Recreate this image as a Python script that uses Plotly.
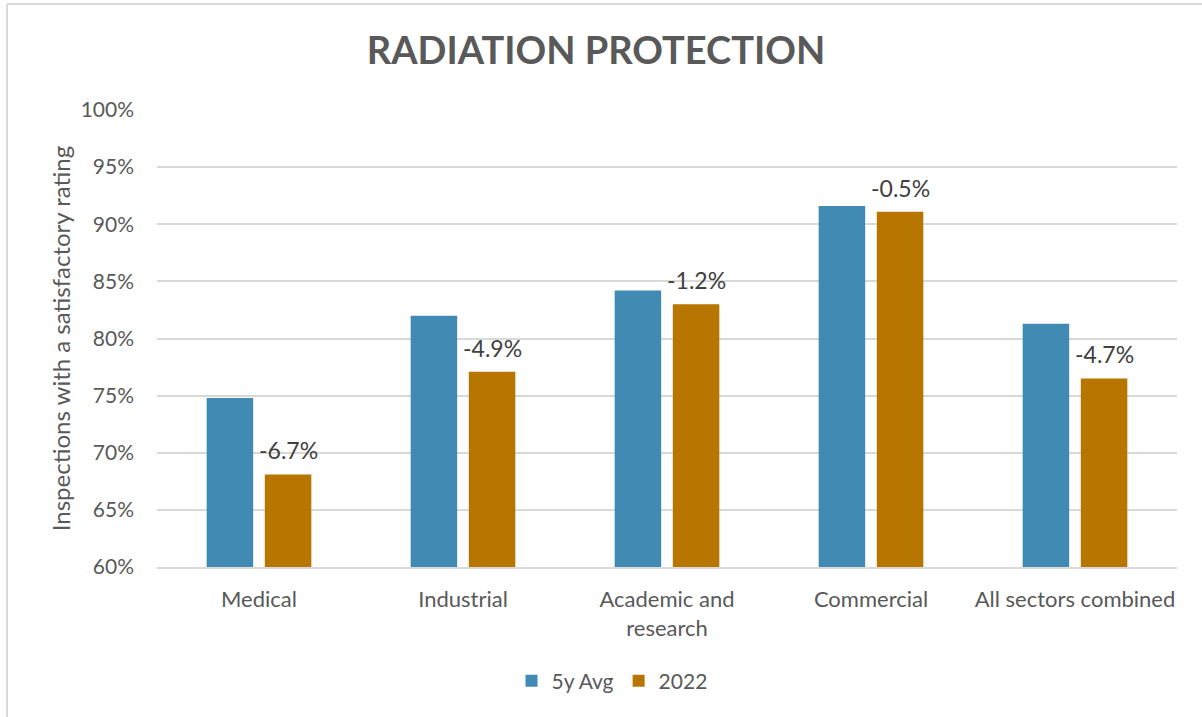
import plotly.graph_objects as go

categories = ["Medical", "Industrial", "Academic and<br>research", "Commercial", "All sectors combined"]
avg5y = [74.8, 82.0, 84.2, 91.6, 81.3]
y2022 = [68.1, 77.1, 83.0, 91.1, 76.5]
changes = ["-6.7%", "-4.9%", "-1.2%", "-0.5%", "-4.7%"]
tick_vals = [60, 65, 70, 75, 80, 85, 90, 95, 100]
tick_text = ["60%", "65%", "70%", "75%", "80%", "85%", "90%", "95%", "100%"]

FONT = "Lato, Open Sans, sans-serif"
GREY = "#595959"

fig = go.Figure()
fig.add_trace(go.Bar(name="5y Avg", x=categories, y=avg5y, marker_color="#418AB3",
                     marker_line_width=0))
fig.add_trace(go.Bar(name="2022", x=categories, y=y2022, marker_color="#B77600",
                     marker_line_width=0))

for c, v, t in zip(categories, y2022, changes):
    fig.add_annotation(x=c, y=v, text=t, showarrow=False, xshift=29, yshift=8,
                       yanchor="bottom", xanchor="center",
                       font=dict(size=23, color="#404040", family=FONT))

W, H = 1202, 717
L, R, T, B = 157, 25, 110, 150
pw, ph = W - L - R, H - T - B

def px_x(p):
    return (p - L) / pw

def px_y(p):
    return (H - B - p) / ph

fig.update_layout(
    width=W, height=H,
    margin=dict(l=L, r=R, t=T, b=B),
    paper_bgcolor="white", plot_bgcolor="white",
    barmode="group", bargap=0.43, bargroupgap=0.2,
    title=dict(text="<b>RADIATION PROTECTION</b>", x=596 / W, xanchor="center",
               y=1 - 51 / H, yanchor="middle",
               font=dict(size=38, color=GREY, family=FONT)),
    font=dict(family=FONT, color=GREY, size=22),
    legend=dict(orientation="h", x=px_x(612), xanchor="center", y=px_y(681), yanchor="middle",
                font=dict(size=21, color=GREY), traceorder="normal"),
    yaxis=dict(range=[60, 100], tickvals=tick_vals, ticktext=tick_text,
               showgrid=True, gridcolor="#D9D9D9", gridwidth=1.5, zeroline=False,
               showline=False, ticks="", ticklen=0, ticklabelstandoff=22,
               title=dict(text="Inspections with a satisfactory rating",
                          font=dict(size=24, color=GREY), standoff=3),
               tickfont=dict(size=21, color=GREY)),
    xaxis=dict(showline=True, linecolor="#D9D9D9", linewidth=1.5, ticks="",
               ticklabelstandoff=12, tickfont=dict(size=22, color=GREY)),
    shapes=[
        dict(type="line", xref="paper", yref="paper", x0=px_x(7), x1=px_x(7),
             y0=px_y(4), y1=px_y(717), line=dict(color="#D9D9D9", width=2)),
        dict(type="line", xref="paper", yref="paper", x0=px_x(7), x1=px_x(1202),
             y0=px_y(4), y1=px_y(4), line=dict(color="#D9D9D9", width=2)),
    ],
)

fig.write_html("out.html", config={"displayModeBar": False},
               post_script="document.body.style.margin='0';")
